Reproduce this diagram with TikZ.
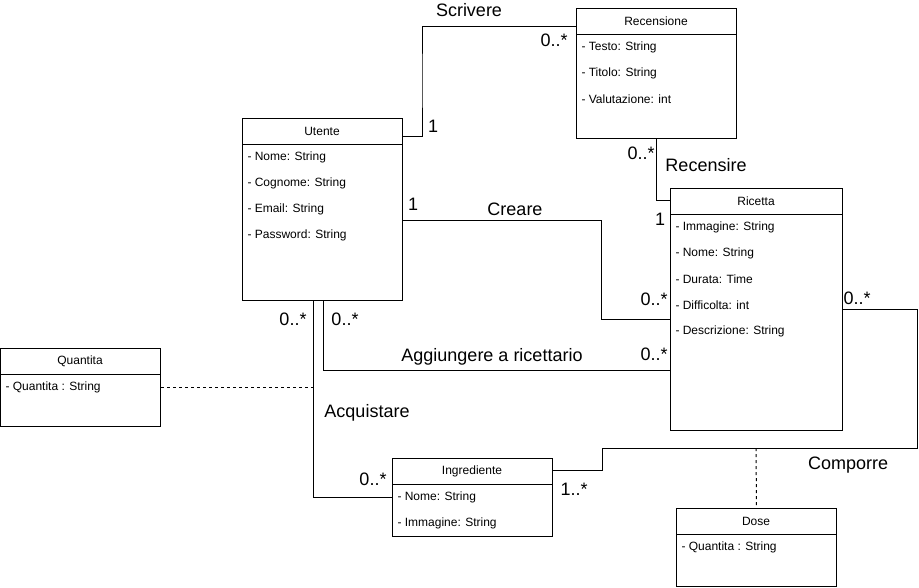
\documentclass[tikz,border=0pt]{standalone}
\usepackage{fontspec}
\setmainfont{Liberation Sans}

\tikzset{every picture/.style={line width=0.75pt}}
\tikzset{
  classbox/.style={draw, rectangle, anchor=north west, inner sep=0pt, minimum width=120pt},
  classname/.style={inner sep=0.75pt, font=\fontsize{9}{11}\selectfont},
  attr/.style={anchor=west, inner sep=0.75pt, font=\fontsize{9}{11}\selectfont},
  assoc/.style={inner sep=0.75pt, font=\fontsize{13.5}{16}\selectfont},
  assocclass/.style={dash pattern={on 2.25pt off 2.25pt}}
}

\begin{document}
\begin{tikzpicture}[x=0.75pt,y=0.75pt,yscale=-1,xscale=1]
  \useasboundingbox (0,0) rectangle (919,587);

  %Class: Recensione
  \node [classbox, minimum height=97.5pt] (recensione) at (576,8) {};
  \draw (recensione.north west) ++(0,26) -- ++(160,0);
  \draw (656,21) node [classname] (recensioneT) {Recensione};
  \draw (580,47.5) node [attr] (recensioneA1) {- Testo: String};
  \draw (580,73.5) node [attr] (recensioneA2) {- Titolo: String};
  \draw (580,99.5) node [attr] (recensioneA3) {- Valutazione: int};

  %Class: Utente
  \node [classbox, minimum height=136.5pt] (utente) at (242,118) {};
  \draw (utente.north west) ++(0,26) -- ++(160,0);
  \draw (322,131) node [classname] (utenteT) {Utente};
  \draw (246,157.5) node [attr] (utenteA1) {- Nome: String};
  \draw (246,183.5) node [attr] (utenteA2) {- Cognome: String};
  \draw (246,209.5) node [attr] (utenteA3) {- Email: String};
  \draw (246,235.5) node [attr] (utenteA4) {- Password: String};

  %Class: Ricetta
  \node [classbox, minimum width=129pt, minimum height=181.5pt] (ricetta) at (670,188) {};
  \draw (ricetta.north west) ++(0,26) -- ++(172,0);
  \draw (756,201) node [classname] (ricettaT) {Ricetta};
  \draw (674,227.5) node [attr] (ricettaA1) {- Immagine: String};
  \draw (674,253.5) node [attr] (ricettaA2) {- Nome: String};
  \draw (674,279.5) node [attr] (ricettaA3) {- Durata: Time};
  \draw (674,305.5) node [attr] (ricettaA4) {- Difficolta: int};
  \draw (674,331.5) node [attr] (ricettaA5) {- Descrizione: String};

  %Class: Quantita
  \node [classbox, minimum height=58.5pt] (quantita) at (0,348) {};
  \draw (quantita.north west) ++(0,26) -- ++(160,0);
  \draw (80,361) node [classname] (quantitaT) {Quantita};
  \draw (4,387.5) node [attr] (quantitaA1) {- Quantita : String};

  %Class: Ingrediente
  \node [classbox, minimum height=58.5pt] (ingrediente) at (392,458) {};
  \draw (ingrediente.north west) ++(0,26) -- ++(160,0);
  \draw (472,471) node [classname] (ingredienteT) {Ingrediente};
  \draw (396,497.5) node [attr] (ingredienteA1) {- Nome: String};
  \draw (396,523.5) node [attr] (ingredienteA2) {- Immagine: String};

  %Class: Dose
  \node [classbox, minimum height=58.5pt] (dose) at (676,508) {};
  \draw (dose.north west) ++(0,26) -- ++(160,0);
  \draw (756,521) node [classname] (doseT) {Dose};
  \draw (680,547.5) node [attr] (doseA1) {- Quantita : String};

  %Association: Scrivere
  \draw ([yshift=13.5pt]utente.north east) -| (422,80) |- ([yshift=13.5pt]recensione.north west);
  %Association: Recensire
  \draw (recensione.south) |- ([yshift=9pt]ricetta.north west);
  %Association: Creare
  \draw ([yshift=76.5pt]utente.north east) -| (601,270) |- ([yshift=98.25pt]ricetta.north west);
  %Association: Aggiungere a ricettario
  \draw ([xshift=0.75pt]utente.south) |- ([yshift=136.5pt]ricetta.north west);
  %Association: Acquistare
  \draw ([xshift=-6.75pt]utente.south) |- ([yshift=29.25pt]ingrediente.north west);
  \coordinate (acq) at (313,387);
  \draw [assocclass] ([yshift=29.25pt]quantita.north east) -- (acq);
  %Association: Comporre
  \draw ([yshift=90.75pt]ricetta.north east) -| (917,448) -| (602,470) -- ([yshift=9pt]ingrediente.north east);
  \coordinate (cmp) at (756,448);
  \draw [assocclass] (cmp) -- (dose.north);

  %Labels
  \draw (469,10) node [assoc] (lScrivere) {Scrivere};
  \draw (554,40) node [assoc] (mScrivereR) {0..*};
  \draw (433,126) node [assoc] (mScrivereU) {1};
  \draw (706,165) node [assoc] (lRecensire) {Recensire};
  \draw (641,153) node [assoc] (mRecensireR) {0..*};
  \draw (660,219) node [assoc] (mRecensireC) {1};
  \draw (515,209) node [assoc] (lCreare) {Creare};
  \draw (413,204) node [assoc] (mCreareU) {1};
  \draw (654,299) node [assoc] (mCreareC) {0..*};
  \draw (492,357) node [assoc] (lAggiungere) {Aggiungere a ricettario};
  \draw (345,319) node [assoc] (mAggiungereU) {0..*};
  \draw (654,354) node [assoc] (mAggiungereC) {0..*};
  \draw (367,413) node [assoc] (lAcquistare) {Acquistare};
  \draw (293,319) node [assoc] (mAcquistareU) {0..*};
  \draw (373,479) node [assoc] (mAcquistareI) {0..*};
  \draw (848,465) node [assoc] (lComporre) {Comporre};
  \draw (857,298) node [assoc] (mComporreC) {0..*};
  \draw (574,489) node [assoc] (mComporreI) {1..*};

\end{tikzpicture}
\end{document}
